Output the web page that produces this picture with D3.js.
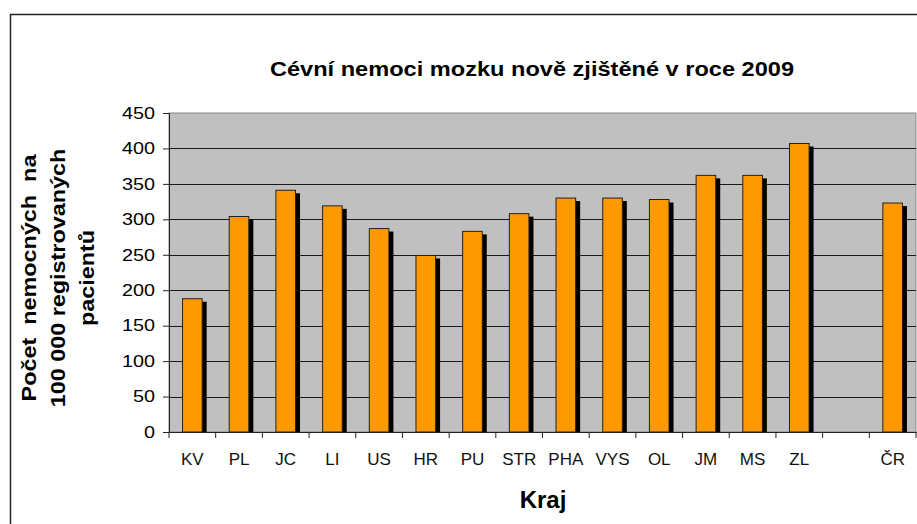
<!DOCTYPE html>
<html lang="cs">
<head>
  <meta charset="UTF-8">
  <title>Cévní nemoci mozku</title>
  <script src="https://d3js.org/d3.v7.min.js"></script>
  <style>
    body { margin: 0; background: #fff; font-family: Arial, "Liberation Sans", sans-serif; }
    svg { display: block; }
  </style>
</head>
<body>
  <div id="chart"></div>
  <script>
    // data
    const kraje = ["KV", "PL", "JC", "LI", "US", "HR", "PU", "STR", "PHA", "VYS", "OL", "JM", "MS", "ZL", "", "ČR"];
    const hodnoty = [188, 304, 341, 319, 287, 249, 283, 308, 330, 330, 328, 362, 362, 407, null, 323];
    const yTicks = [0, 50, 100, 150, 200, 250, 300, 350, 400, 450];

    const W = 917, H = 524;
    const m = { left: 169, right: 1, top: 113, bottom: 92 };
    const pw = W - m.left - m.right;
    const ph = H - m.top - m.bottom;
    const font = "Arial, 'Liberation Sans', sans-serif";
    const stretch = 1.2; // text in the original looks wider than Arial

    const svg = d3.select("#chart").append("svg")
      .attr("width", W).attr("height", H)
      .attr("font-family", font);

    // outer frame
    svg.append("rect")
      .attr("x", 10.5).attr("y", 14.5)
      .attr("width", W + 10).attr("height", H + 10)
      .attr("fill", "#fff").attr("stroke", "#222").attr("stroke-width", 1.5);

    const keys = kraje.map((k, i) => k === "" ? "_" + i : k);
    const data = keys.map((k, i) => ({ key: k, label: kraje[i], v: hodnoty[i] }));

    const x = d3.scaleBand().domain(keys).range([0, pw]).paddingInner(0).paddingOuter(0);
    const y = d3.scaleLinear().domain([0, 450]).range([ph, 0]);

    const g = svg.append("g").attr("transform", `translate(${m.left},${m.top})`);

    g.append("rect")
      .attr("width", pw).attr("height", ph)
      .attr("fill", "#c0c0c0").attr("stroke", "#888").attr("stroke-width", 1);

    // gridlines
    g.selectAll(".grid")
      .data(yTicks.filter(t => t > 0 && t < 450))
      .enter().append("line")
      .attr("x1", 0).attr("x2", pw)
      .attr("y1", d => Math.round(y(d)) + 0.5).attr("y2", d => Math.round(y(d)) + 0.5)
      .attr("stroke", "#1a1a1a").attr("stroke-width", 1);

    const bw = x.bandwidth() * 0.42;
    const bars = data.filter(d => d.v != null);

    // shadows
    g.selectAll(".shadow")
      .data(bars)
      .enter().append("rect")
      .attr("x", d => x(d.key) + (x.bandwidth() - bw) / 2 + 4.5)
      .attr("y", d => y(d.v) + 3)
      .attr("width", bw)
      .attr("height", d => ph - y(d.v) - 3)
      .attr("fill", "#000");

    g.selectAll(".bar")
      .data(bars)
      .enter().append("rect")
      .attr("class", "bar")
      .attr("x", d => x(d.key) + (x.bandwidth() - bw) / 2)
      .attr("y", d => y(d.v))
      .attr("width", bw)
      .attr("height", d => ph - y(d.v))
      .attr("fill", "#ff9900")
      .attr("stroke", "#222")
      .attr("stroke-width", 1);

    // y axis
    const yAxis = g.append("g")
      .call(d3.axisLeft(y).tickValues(yTicks).tickSize(6).tickPadding(8));
    yAxis.select(".domain").attr("stroke", "#222");
    yAxis.selectAll(".tick line").attr("stroke", "#222");
    yAxis.selectAll("text")
      .attr("x", 0)
      .attr("transform", `translate(-14,0) scale(${stretch},1)`)
      .attr("font-size", 16.5).attr("font-family", font).attr("fill", "#000");

    // x axis: labels at band centres, ticks between categories
    const xAxis = g.append("g")
      .attr("transform", `translate(0,${ph})`)
      .call(d3.axisBottom(x).tickSize(0).tickPadding(21).tickFormat((k, i) => kraje[i]));
    xAxis.select(".domain").attr("stroke", "#222");
    xAxis.selectAll("text")
      .attr("font-size", 17).attr("font-family", font).attr("fill", "#111");

    g.selectAll(".xtick")
      .data(keys.concat(["end"]))
      .enter().append("line")
      .attr("x1", d => d === "end" ? pw : x(d))
      .attr("x2", d => d === "end" ? pw : x(d))
      .attr("y1", ph).attr("y2", ph + 6)
      .attr("stroke", "#222");

    // titles
    svg.append("text")
      .attr("transform", `translate(532,76) scale(1.21,1)`)
      .attr("text-anchor", "middle")
      .attr("font-size", 19.5).attr("font-weight", "bold")
      .text("Cévní nemoci mozku nově zjištěné v roce 2009");

    svg.append("text")
      .attr("x", 543).attr("y", 508)
      .attr("text-anchor", "middle")
      .attr("font-size", 24).attr("font-weight", "bold")
      .text("Kraj");

    const yTitle = ["Počet  nemocných  na", "100 000 registrovaných", "pacientů"];
    svg.append("g")
      .attr("transform", `translate(65,278) rotate(-90) scale(${stretch},1)`)
      .selectAll("text")
      .data(yTitle)
      .enter().append("text")
      .attr("x", 0)
      .attr("y", (d, i) => (i - 1) * 29)
      .attr("text-anchor", "middle")
      .attr("font-size", 19.5).attr("font-weight", "bold")
      .attr("xml:space", "preserve")
      .style("white-space", "pre")
      .text(d => d);
  </script>
</body>
</html>
